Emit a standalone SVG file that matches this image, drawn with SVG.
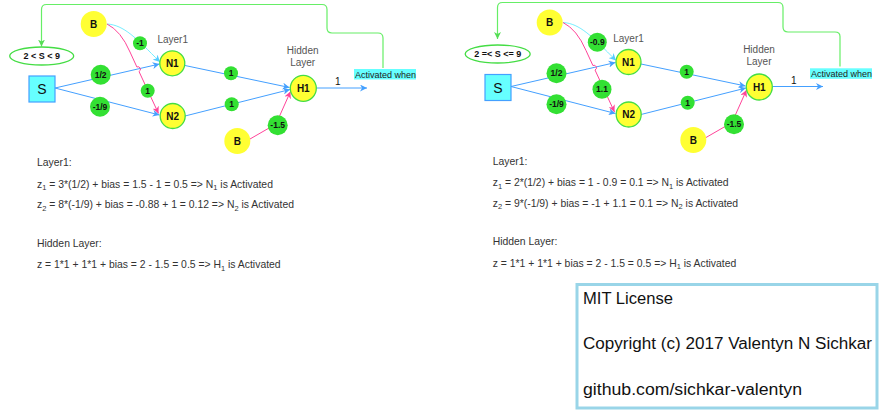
<svg xmlns="http://www.w3.org/2000/svg" width="885" height="415" viewBox="0 0 885 415">
<defs>
<style>
.t{font-family:"Liberation Sans",Arial,sans-serif;}
.nodeY{fill:#ffff33;stroke:#44dd44;stroke-width:1.3;}
.bias{fill:#ffff33;stroke:none;}
.w{fill:#33e033;stroke:none;}
.lbl{font-family:"Liberation Sans",Arial,sans-serif;font-weight:bold;font-size:8.5px;fill:#111;text-anchor:middle;}
.cl{font-family:"Liberation Sans",Arial,sans-serif;font-weight:bold;font-size:9px;fill:#111;text-anchor:middle;}
.nl{font-family:"Liberation Sans",Arial,sans-serif;font-weight:bold;font-size:10px;fill:#111;text-anchor:middle;}
.gray{font-family:"Liberation Sans",Arial,sans-serif;font-size:10px;fill:#555;text-anchor:middle;}
.blue{fill:none;stroke:#44a0ff;stroke-width:1;}
.pink{fill:none;stroke:#ff4499;stroke-width:1;}
.cyan{fill:none;stroke:#77eeff;stroke-width:1;}
.green{fill:none;stroke:#66ee66;stroke-width:1.2;}
.eq{font-family:"Liberation Sans",Arial,sans-serif;font-size:10.4px;fill:#333;}
.lic{font-family:"Liberation Sans",Arial,sans-serif;font-size:16px;fill:#111;}
</style>
<marker id="ab" viewBox="0 0 10 10" refX="10" refY="5" markerWidth="7" markerHeight="7" markerUnits="userSpaceOnUse" orient="auto"><path d="M0,0 L10,5 L0,10 L3,5 Z" fill="#44a0ff"/></marker>
<marker id="ap" viewBox="0 0 10 10" refX="10" refY="5" markerWidth="7" markerHeight="7" markerUnits="userSpaceOnUse" orient="auto"><path d="M0,0 L10,5 L0,10 L3,5 Z" fill="#ff4499"/></marker>
<marker id="ac" viewBox="0 0 10 10" refX="10" refY="5" markerWidth="7" markerHeight="7" markerUnits="userSpaceOnUse" orient="auto"><path d="M0,0 L10,5 L0,10 L3,5 Z" fill="#55ccff"/></marker>
<marker id="ag" viewBox="0 0 10 10" refX="10" refY="5" markerWidth="7" markerHeight="7" markerUnits="userSpaceOnUse" orient="auto"><path d="M0,0 L10,5 L0,10 L3,5 Z" fill="#55dd55"/></marker>
</defs>
<rect width="885" height="415" fill="#ffffff"/>

<!-- LEFT DIAGRAM -->
<g id="left">
<g id="connectors-left">
<path class="green" d="M383,68 V38 Q383,33 378,33 H332 Q327,33 327,28 V9.5 Q327,4.5 322,4.5 H46.5 Q41.5,4.5 41.5,9.5 V46.5" marker-end="url(#ag)"/>
<path class="blue" d="M55,88 L159.5,64" marker-end="url(#ab)"/>
<path class="blue" d="M55,88 L159.5,115" marker-end="url(#ab)"/>
<path class="cyan" d="M107,24 C124,25 136,38 160,62" marker-end="url(#ac)"/>
<path class="pink" d="M107,24 Q121,31 130,52 L136.9,67 A2.4,2.4 0 0 1 139,71.5 L158.5,113.5" marker-end="url(#ap)"/>
<path class="blue" d="M185,65.5 L289.5,87.5" marker-end="url(#ab)"/>
<path class="blue" d="M185,116 L290,89.5" marker-end="url(#ab)"/>
<path class="pink" d="M250,139 L276,124 L290.5,91.5" marker-end="url(#ap)"/>
<path class="blue" d="M316.5,88 L367,88" marker-end="url(#ab)"/>
</g>
<g id="cond-left"><ellipse cx="41.7" cy="56" rx="32" ry="9" fill="#fff" stroke="#44dd44" stroke-width="1.3"/><text class="cl" x="41.7" y="59.2">2 &lt; S &lt; 9</text></g>
<g id="S-left"><rect x="29" y="76" width="26" height="26" fill="#66ffff" stroke="#44a0ff" stroke-width="1.2"/><text class="t" x="42" y="94" font-size="14" text-anchor="middle" fill="#111">S</text></g>
<g id="B1-left"><circle class="bias" cx="93.7" cy="24" r="13"/><text class="nl" x="93.7" y="27.5">B</text></g>
<g id="N1-left"><circle class="nodeY" cx="172.3" cy="63.3" r="12.5"/><text class="nl" x="172.3" y="67">N1</text></g>
<g id="N2-left"><circle class="nodeY" cx="172.7" cy="116" r="12.5"/><text class="nl" x="172.7" y="119.5">N2</text></g>
<g id="H1-left"><circle class="nodeY" cx="303.3" cy="88.3" r="13"/><text class="nl" x="303.3" y="92">H1</text></g>
<g id="B2-left"><circle class="bias" cx="237.3" cy="141" r="13"/><text class="nl" x="237.3" y="144.5">B</text></g>
<g id="w-left">
<circle class="w" cx="140" cy="43.3" r="7"/><text class="lbl" x="140" y="46.3">-1</text>
<circle class="w" cx="100.7" cy="74.7" r="10"/><text class="lbl" x="100.7" y="77.7">1/2</text>
<circle class="w" cx="100" cy="106.7" r="10"/><text class="lbl" x="100" y="109.7">-1/9</text>
<circle class="w" cx="147.7" cy="90.7" r="7"/><text class="lbl" x="147.7" y="93.7">1</text>
<circle class="w" cx="231" cy="73.3" r="7"/><text class="lbl" x="231" y="76.3">1</text>
<circle class="w" cx="231.7" cy="104.3" r="7"/><text class="lbl" x="231.7" y="107.3">1</text>
<circle class="w" cx="277.7" cy="125.3" r="10"/><text class="lbl" x="277.7" y="128.3">-1.5</text>
</g>
<g id="labels-left">
<text class="gray" x="172.7" y="42.5">Layer1</text>
<text class="gray" x="302.7" y="54">Hidden</text>
<text class="gray" x="302.7" y="66">Layer</text>
<text class="t" x="337.7" y="85" font-size="10" text-anchor="middle" fill="#111">1</text>
<rect x="354" y="69" width="62" height="10.5" fill="#66ffff"/>
<text class="t" x="355" y="77.5" font-size="9" fill="#222">Activated when</text>
</g>
</g>

<!-- RIGHT DIAGRAM -->
<g id="right" transform="translate(456,-1.5)">
<g id="connectors-right">
<path class="green" d="M384,68 V38 Q384,33.5 379,33.5 H332 Q327,33.5 327,28.5 V9 Q327,4 322,4 H46.5 Q41.5,4 41.5,9 V40.5" marker-end="url(#ag)"/>
<path class="blue" d="M55,88 L159.5,64" marker-end="url(#ab)"/>
<path class="blue" d="M55,88 L159.5,115" marker-end="url(#ab)"/>
<path class="cyan" d="M107,24 C124,25 136,38 160,62" marker-end="url(#ac)"/>
<path class="pink" d="M107,24 Q121,31 130,52 L136.9,67 A2.4,2.4 0 0 1 139,71.5 L158.5,113.5" marker-end="url(#ap)"/>
<path class="blue" d="M185,65.5 L289.5,87.5" marker-end="url(#ab)"/>
<path class="blue" d="M185,116 L290,89.5" marker-end="url(#ab)"/>
<path class="pink" d="M250,139 L276,124 L290.5,91.5" marker-end="url(#ap)"/>
<path class="blue" d="M316.5,88 L367,88" marker-end="url(#ab)"/>
</g>
<g id="cond-right"><ellipse cx="41.7" cy="55.5" rx="32.5" ry="9" fill="#fff" stroke="#44dd44" stroke-width="1.3"/><text class="cl" x="41.7" y="58.7">2 =&lt; S &lt;= 9</text></g>
<g id="S-right"><rect x="29" y="76" width="26" height="26" fill="#66ffff" stroke="#44a0ff" stroke-width="1.2"/><text class="t" x="42" y="94" font-size="14" text-anchor="middle" fill="#111">S</text></g>
<g id="B1-right"><circle class="bias" cx="93.7" cy="24" r="13"/><text class="nl" x="93.7" y="27.5">B</text></g>
<g id="N1-right"><circle class="nodeY" cx="172.5" cy="63.5" r="12.5"/><text class="nl" x="172.5" y="67">N1</text></g>
<g id="N2-right"><circle class="nodeY" cx="172.7" cy="116" r="12.5"/><text class="nl" x="172.7" y="119.5">N2</text></g>
<g id="H1-right"><circle class="nodeY" cx="303.3" cy="88.5" r="13"/><text class="nl" x="303.3" y="92">H1</text></g>
<g id="B2-right"><circle class="bias" cx="237.3" cy="141.5" r="13"/><text class="nl" x="237.3" y="145">B</text></g>
<g id="w-right">
<circle class="w" cx="141.3" cy="43.8" r="9.5"/><text class="lbl" x="141.3" y="46.8">-0.9</text>
<circle class="w" cx="100.5" cy="74.8" r="10"/><text class="lbl" x="100.5" y="77.8">1/2</text>
<circle class="w" cx="100.5" cy="105.8" r="10"/><text class="lbl" x="100.5" y="108.8">-1/9</text>
<circle class="w" cx="146" cy="90.8" r="9.5"/><text class="lbl" x="146" y="93.8">1.1</text>
<circle class="w" cx="230.7" cy="73.2" r="7"/><text class="lbl" x="230.7" y="76.2">1</text>
<circle class="w" cx="231.7" cy="104.2" r="7"/><text class="lbl" x="231.7" y="107.2">1</text>
<circle class="w" cx="278" cy="125.8" r="10"/><text class="lbl" x="278" y="128.8">-1.5</text>
</g>
<g id="labels-right">
<text class="gray" x="172.5" y="43.3">Layer1</text>
<text class="gray" x="303" y="54.5">Hidden</text>
<text class="gray" x="303" y="66.5">Layer</text>
<text class="t" x="337.7" y="85.3" font-size="10" text-anchor="middle" fill="#111">1</text>
<rect x="354" y="69.8" width="62" height="10.5" fill="#66ffff"/>
<text class="t" x="355" y="78.3" font-size="9" fill="#222">Activated when</text>
</g>
</g>

<!-- EQUATIONS -->
<g id="eq-left">
<text class="eq" x="37" y="165.5">Layer1:</text>
<text class="eq" x="37" y="187.5">z<tspan font-size="7.5" dy="2.5">1</tspan><tspan dy="-2.5"> = 3*(1/2) + bias = 1.5 - 1 = 0.5 =&gt; N</tspan><tspan font-size="7.5" dy="2.5">1</tspan><tspan dy="-2.5"> is Activated</tspan></text>
<text class="eq" x="37" y="208">z<tspan font-size="7.5" dy="2.5">2</tspan><tspan dy="-2.5"> = 8*(-1/9) + bias = -0.88 + 1 = 0.12 =&gt; N</tspan><tspan font-size="7.5" dy="2.5">2</tspan><tspan dy="-2.5"> is Activated</tspan></text>
<text class="eq" x="37" y="246.5">Hidden Layer:</text>
<text class="eq" x="37" y="268">z = 1*1 + 1*1 + bias = 2 - 1.5 = 0.5 =&gt; H<tspan font-size="7.5" dy="2.5">1</tspan><tspan dy="-2.5"> is Activated</tspan></text>
</g>
<g id="eq-right">
<text class="eq" x="492.7" y="164.5">Layer1:</text>
<text class="eq" x="492.7" y="186">z<tspan font-size="7.5" dy="2.5">1</tspan><tspan dy="-2.5"> = 2*(1/2) + bias = 1 - 0.9 = 0.1 =&gt; N</tspan><tspan font-size="7.5" dy="2.5">1</tspan><tspan dy="-2.5"> is Activated</tspan></text>
<text class="eq" x="492.7" y="206.5">z<tspan font-size="7.5" dy="2.5">2</tspan><tspan dy="-2.5"> = 9*(-1/9) + bias = -1 + 1.1 = 0.1 =&gt; N</tspan><tspan font-size="7.5" dy="2.5">2</tspan><tspan dy="-2.5"> is Activated</tspan></text>
<text class="eq" x="492.7" y="244.5">Hidden Layer:</text>
<text class="eq" x="492.7" y="266.5">z = 1*1 + 1*1 + bias = 2 - 1.5 = 0.5 =&gt; H<tspan font-size="7.5" dy="2.5">1</tspan><tspan dy="-2.5"> is Activated</tspan></text>
</g>

<!-- LICENSE -->
<g id="license">
<rect x="577" y="284.5" width="300" height="123.5" fill="#fff" stroke="#99d5e8" stroke-width="3"/>
<text class="lic" x="583" y="304" textLength="90" lengthAdjust="spacingAndGlyphs">MIT License</text>
<text class="lic" x="583" y="348.5" textLength="289" lengthAdjust="spacingAndGlyphs">Copyright (c) 2017 Valentyn N Sichkar</text>
<text class="lic" x="583" y="394.5" textLength="219" lengthAdjust="spacingAndGlyphs">github.com/sichkar-valentyn</text>
</g>
</svg>
